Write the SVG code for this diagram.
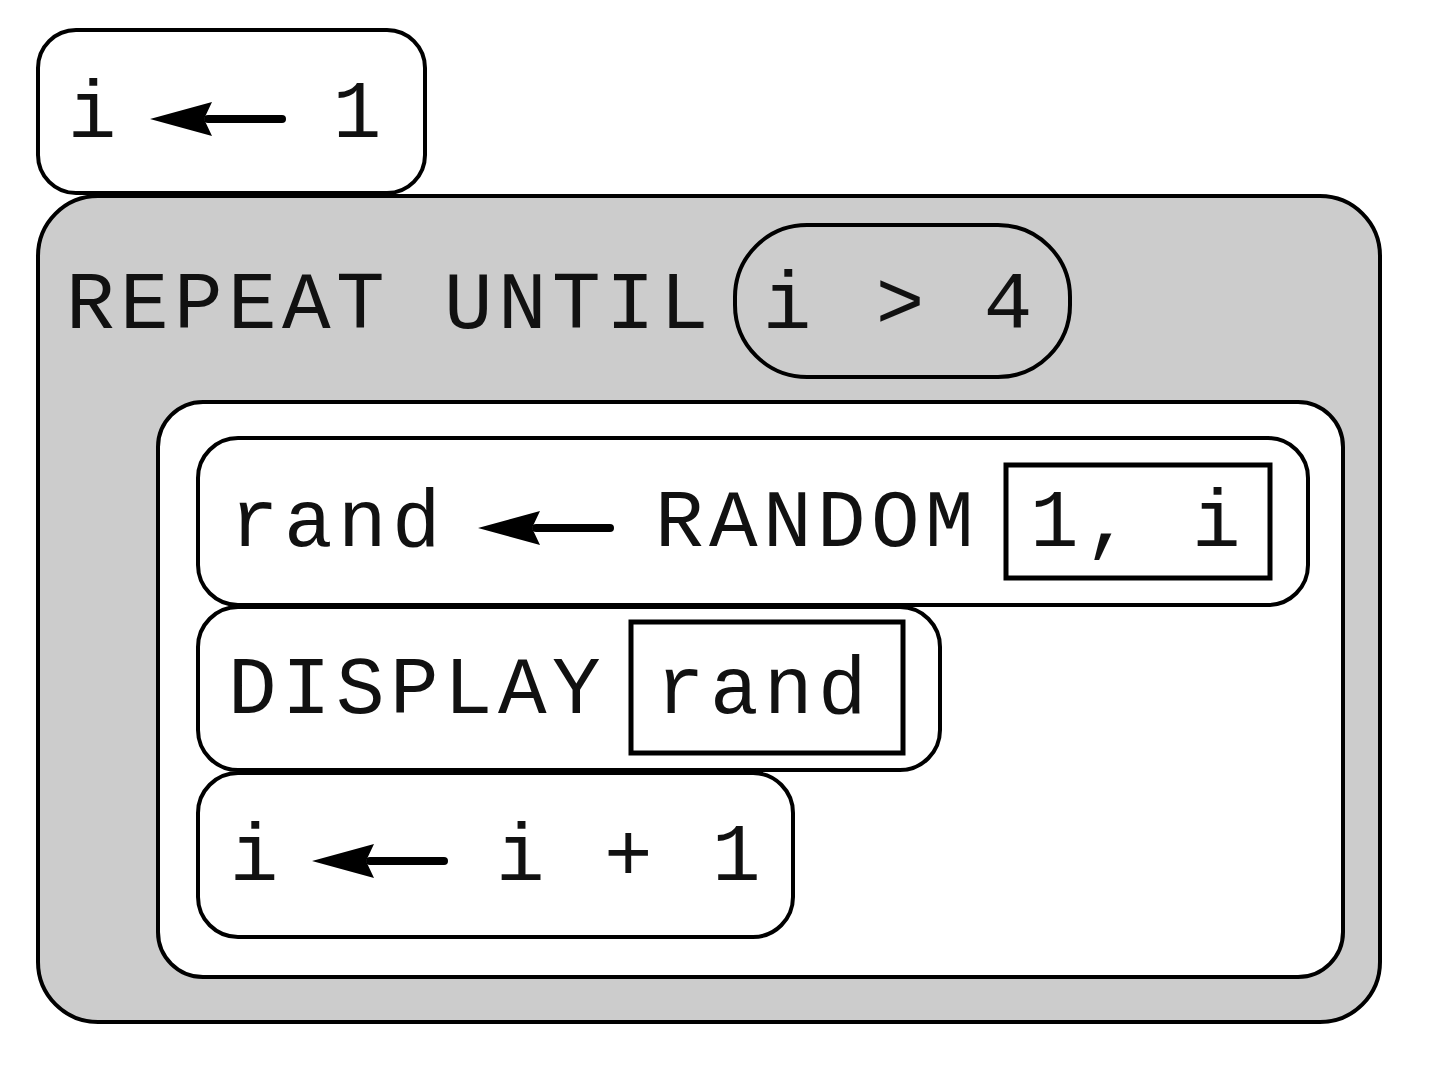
<svg xmlns="http://www.w3.org/2000/svg" width="1440" height="1065" viewBox="0 0 1440 1065">
<style>
.box{fill:#fff;stroke:#000;stroke-width:4}
.gray{fill:#cccccc;stroke:#000;stroke-width:4}
.arg{fill:#fff;stroke:#000;stroke-width:5}
.t{font-family:"Liberation Mono","Courier New",monospace;font-size:81px;fill:#111}
.w{letter-spacing:5.4px}
.ln{stroke:#000;stroke-width:8;stroke-linecap:round}
</style>
<defs>
<g id="arrow"><line class="ln" x1="58" y1="0" x2="132" y2="0"/><polygon points="0,0 62,-17 54,0 62,17" fill="#000"/></g>
</defs>
<rect width="1440" height="1065" fill="#fff"/>
<g id="init">
<rect class="box" x="38" y="30" width="387" height="163" rx="38"/>
<text class="t" x="92" y="137" text-anchor="middle">i</text>
<use href="#arrow" x="150" y="119"/>
<text class="t" x="357" y="137" text-anchor="middle">1</text>
</g>
<g id="repeat">
<rect class="gray" x="38" y="196" width="1342" height="826" rx="60"/>
<text class="t w" x="66" y="328">REPEAT UNTIL</text>
</g>
<g id="condition">
<rect class="gray" x="735" y="225" width="335" height="152" rx="72"/>
<text class="t" x="787" y="328" text-anchor="middle">i</text>
<text class="t" x="900" y="328" text-anchor="middle">&gt;</text>
<text class="t" x="1008" y="328" text-anchor="middle">4</text>
</g>
<g id="body">
<rect class="box" x="158" y="402" width="1185" height="575" rx="45"/>
</g>
<g id="stmt-random">
<rect class="box" x="198" y="438" width="1110" height="167" rx="40"/>
<text class="t w" x="230" y="546">rand</text>
<use href="#arrow" x="478" y="528"/>
<text class="t w" x="655" y="546">RANDOM</text>
<rect class="arg" x="1006" y="465" width="264" height="113"/>
<text class="t w" x="1030" y="546">1, i</text>
</g>
<g id="stmt-display">
<rect class="box" x="198" y="607" width="742" height="163" rx="40"/>
<text class="t w" x="228" y="713">DISPLAY</text>
<rect class="arg" x="631" y="622" width="272" height="131"/>
<text class="t w" x="656" y="713">rand</text>
</g>
<g id="stmt-increment">
<rect class="box" x="198" y="773" width="595" height="164" rx="40"/>
<text class="t" x="254" y="880" text-anchor="middle">i</text>
<use href="#arrow" x="312" y="861"/>
<text class="t w" x="496" y="880">i + 1</text>
</g>
<g id="connectors"></g>
</svg>
